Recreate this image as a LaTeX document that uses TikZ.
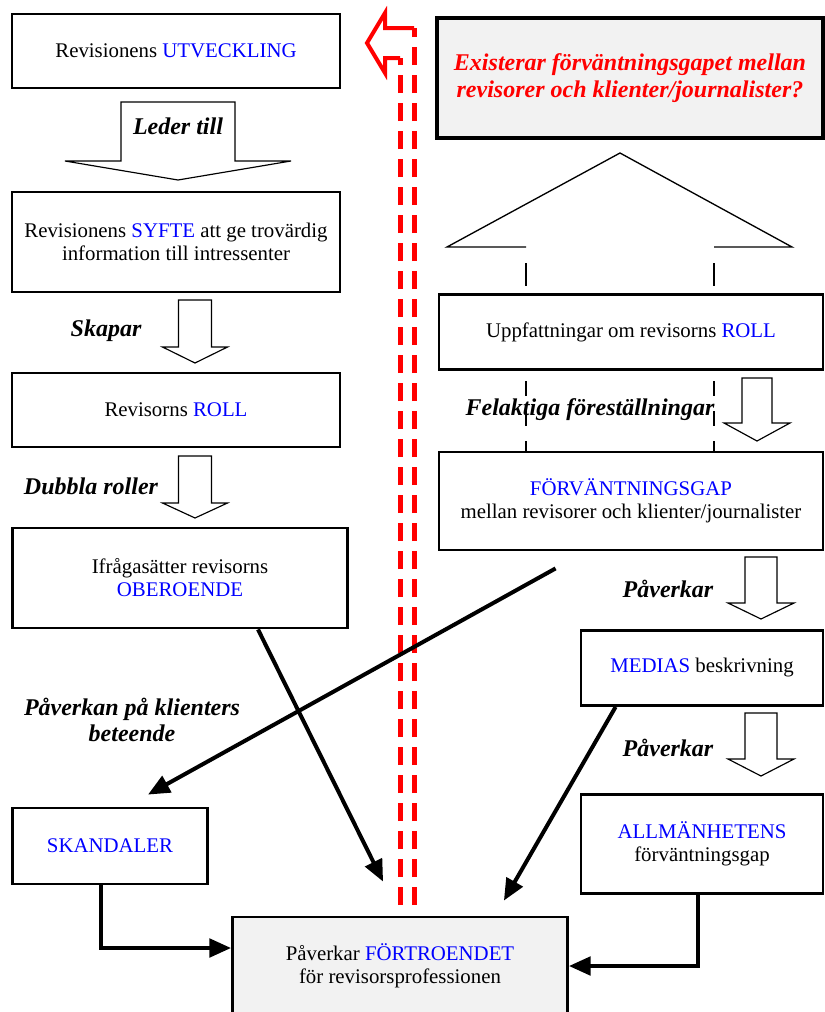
\documentclass[tikz,border=0pt]{standalone}
\usepackage{fontspec}
\setmainfont{Liberation Serif}
\usepackage{tikz}
\usetikzlibrary{arrows.meta}
\usetikzlibrary{calc}
\usetikzlibrary{positioning}
\definecolor{BoxGray}{RGB}{242,242,242}
\definecolor{KeyBlue}{RGB}{0,0,255}
\definecolor{AlertRed}{RGB}{255,0,0}
\newcommand{\kw}[1]{\textcolor{KeyBlue}{#1}}
% hollow down arrow: centre x, top, shaft half width, shaft bottom, head half width, tip
\newcommand{\hollowdown}[6]{%
	\draw[blockarrow] ({#1-#3},#2) -- ({#1+#3},#2) -- ({#1+#3},#4) -- ({#1+#5},#4) -- (#1,#6) -- ({#1-#5},#4) -- ({#1-#3},#4) -- cycle;}
\tikzset{
	>={Triangle[length=13pt,width=11pt]},
	box/.style 2 args={draw, line width=1.7pt, fill=white, minimum width=#1*0.6pt, minimum height=#2*0.6pt,
		align=center, inner sep=2pt, font=\fontsize{12.5}{13.8}\selectfont},
	graybox/.style={fill=BoxGray},
	blockarrow/.style={draw=black, fill=white, line width=0.7pt},
	linklabel/.style={font=\fontsize{14.4}{15.6}\selectfont\bfseries\itshape, align=center},
	thickarrow/.style={->, line width=2.4pt},
	gapline/.style={black, line width=0.8pt},
	redpath/.style={AlertRed, line width=3pt, dash pattern=on 10.8pt off 6pt},
	redhead/.style={AlertRed, line width=2.4pt},
}

\begin{document}
\begin{tikzpicture}[x=0.6pt, y=-0.6pt, line join=miter]
	\useasboundingbox (0,0) rectangle (824,1012);
	
	% Triangle over the two perceptions
	\draw[gapline] (526,247) -- (447,247) -- (620,153) -- (792,247) -- (714,247);
	\draw[gapline] (526,263) -- (526,286);
	\draw[gapline] (714,263) -- (714,286);
	\draw[gapline, dash pattern=on 9pt off 9pt] (526,381) -- (526,452);
	\draw[gapline, dash pattern=on 9pt off 9pt] (714,381) -- (714,452);
	
	% Left column
	\node[box={328}{74}] (utv) at (176,51) {Revisionens \kw{UTVECKLING}};
	\node[box={328}{100}] (syfte) at (176,242) {Revisionens \kw{SYFTE} att ge trovärdig\\information till intressenter};
	\node[box={328}{74}] (roll) at (176,410) {Revisorns \kw{ROLL}};
	\node[box={335}{100}] (ober) at (180,578) {Ifrågasätter revisorns\\\kw{OBEROENDE}};
	\node[box={195}{76}] (skand) at (110,846) {\kw{SKANDALER}};
	\node[box={335}{98}, graybox] (trust) at (400,966) {Påverkar \kw{FÖRTROENDET}\\för revisorsprofessionen};
	
	% Right column
	\node[box={386}{120}, graybox, line width=2.3pt, text=AlertRed,
		font=\fontsize{14.4}{16.2}\selectfont\bfseries\itshape] (quest) at (630,78)
		{Existerar förväntningsgapet mellan\\revisorer och klienter/journalister?};
	\node[box={384}{75}] (uppf) at (631,332) {Uppfattningar om revisorns \kw{ROLL}};
	\node[box={384}{98}] (gap) at (631,501) {\kw{FÖRVÄNTNINGSGAP}\\mellan revisorer och klienter/journalister};
	\node[box={242}{75}] (media) at (702,668) {\kw{MEDIAS} beskrivning};
	\node[box={242}{99}] (allm) at (702,844) {\kw{ALLMÄNHETENS}\\förväntningsgap};
	
	% Hollow arrows
	\hollowdown{178}{102}{57}{161}{113}{180}
	\hollowdown{195}{300}{16.5}{347}{32.5}{363}
	\hollowdown{195}{456}{16.5}{503}{32.5}{518}
	\hollowdown{757}{378}{15}{423}{33}{441}
	\hollowdown{761}{557}{16}{603}{33}{619}
	\hollowdown{761}{713}{16}{759}{33}{776}
	
	% Labels
	\node[linklabel] (lblleder) at (178,126) {Leder till};
	\node[linklabel] (lblskapar) at (106,331) {Skapar};
	\node[linklabel] (lbldubbla) at (91,486) {Dubbla roller};
	\node[linklabel] (lblfelakt) at (590,410) {Felaktiga föreställningar};
	\node[linklabel] (lblpav1) at (668,589) {Påverkar};
	\node[linklabel] (lblpav2) at (668,748) {Påverkar};
	\node[linklabel] (lblklient) at (132,720) {Påverkan på klienters\\beteende};
	
	% Red double line with open head
	\coordinate (redL) at (400,905);
	\coordinate (redR) at (414,905);
	\coordinate (redLtop) at (400,58);
	\coordinate (redRtop) at (414,28);
	\draw[redpath] (redL) -- (redLtop);
	\draw[redpath] (redR) -- (redRtop);
	\draw[redhead] (redLtop) -- (385,58) -- (385,73) -- (367,43) -- (385,13) -- (385,28) -- (redRtop);
	
	% Thick arrows
	\draw[thickarrow] ($(gap.south west)+(118,17)$) -- ($(skand.north)+(38,-12)$);
	\draw[thickarrow] ($(ober.south)+(78,0)$) -- ($(trust.north west)+(152,-34)$);
	\draw[thickarrow] ($(media.south west)+(36,0)$) -- ($(trust.north east)+(-65,-15)$);
	\draw[thickarrow] ($(skand.south)+(-9,0)$) |- ($(trust.west)+(0,-18)$);
	\draw[thickarrow] ($(allm.south)+(-4,0)$) |- (trust.east);
	
\end{tikzpicture}
\end{document}
